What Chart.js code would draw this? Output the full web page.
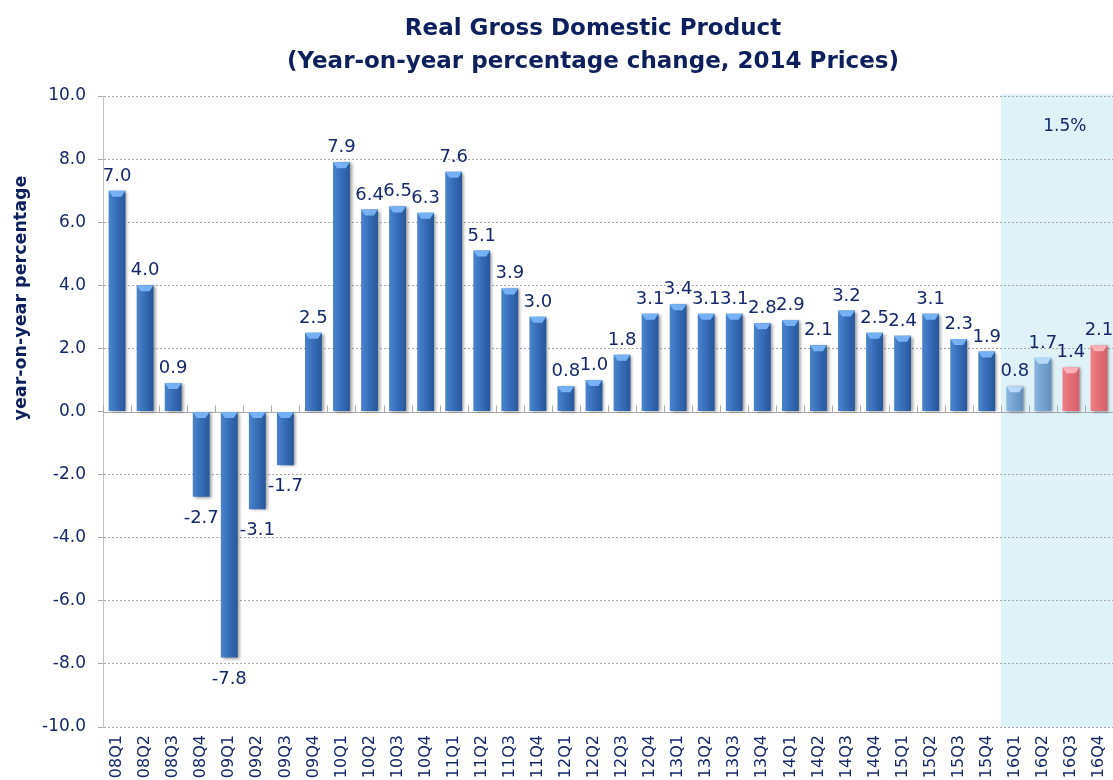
<!DOCTYPE html>
<html><head><meta charset="utf-8">
<script src="https://cdn.jsdelivr.net/npm/chart.js@4.4.0/dist/chart.umd.min.js"></script>
<style>html,body{margin:0;padding:0;background:#fff;}canvas{display:block;}</style>
</head><body>
<canvas id="c" width="1113" height="780"></canvas>
<script>
const categories = ["08Q1","08Q2","08Q3","08Q4","09Q1","09Q2","09Q3","09Q4",
  "10Q1","10Q2","10Q3","10Q4","11Q1","11Q2","11Q3","11Q4",
  "12Q1","12Q2","12Q3","12Q4","13Q1","13Q2","13Q3","13Q4",
  "14Q1","14Q2","14Q3","14Q4","15Q1","15Q2","15Q3","15Q4",
  "16Q1","16Q2","16Q3","16Q4"];
const gdpGrowth = [7.0,4.0,0.9,-2.7,-7.8,-3.1,-1.7,2.5,
  7.9,6.4,6.5,6.3,7.6,5.1,3.9,3.0,
  0.8,1.0,1.8,3.1,3.4,3.1,3.1,2.8,
  2.9,2.1,3.2,2.5,2.4,3.1,2.3,1.9,
  0.8,1.7,1.4,2.1];
const barGroup = ["a","a","a","a","a","a","a","a","a","a","a","a","a","a","a","a",
  "a","a","a","a","a","a","a","a","a","a","a","a","a","a","a","a",
  "b","b","c","c"];
const yMin = -10, yMax = 10, yStep = 2;
const titleLines = ["Real Gross Domestic Product","(Year-on-year percentage change, 2014 Prices)"];
const yAxisTitle = "year-on-year percentage";
const shadedFrom = "16Q1";
const shadedNote = "1.5%";

const NAVY = "#14286a";
const palette = {
  a: ["#4b84ce", "#3a71bb", "#28579a", "rgba(120,180,245,0.95)"],
  b: ["#8ab7e0", "#76a5d2", "#6290c0", "rgba(185,220,250,0.95)"],
  c: ["#ee8088", "#e6717a", "#d65f69", "rgba(255,185,190,0.9)"]
};

function barColor(ctx) {
  const chart = ctx.chart;
  const g = palette[barGroup[ctx.dataIndex]] || palette.a;
  const xs = chart.scales && chart.scales.x;
  if (!xs || !chart.chartArea || ctx.dataIndex === undefined) return g[1];
  const cx = xs.getPixelForValue(ctx.dataIndex);
  const step = xs.getPixelForValue(1) - xs.getPixelForValue(0);
  const w = step * 0.3;
  const grad = chart.ctx.createLinearGradient(cx - w, 0, cx + w, 0);
  grad.addColorStop(0, g[0]);
  grad.addColorStop(0.4, g[1]);
  grad.addColorStop(1, g[2]);
  return grad;
}

const decor = {
  id: "decor",
  beforeDraw(chart) {
    const c = chart.ctx, a = chart.chartArea, xs = chart.scales.x;
    c.save();
    c.fillStyle = "#fff";
    c.fillRect(0, 0, chart.width, chart.height);
    const i0 = categories.indexOf(shadedFrom);
    const step = xs.getPixelForValue(1) - xs.getPixelForValue(0);
    const sx = xs.getPixelForValue(i0) - step / 2;
    c.fillStyle = "#dff2f8";
    c.fillRect(sx, a.top - 2, a.right - sx, a.bottom - a.top + 2);
    c.fillStyle = "#0e1f5e";
    c.font = "bold 23px 'DejaVu Sans'";
    c.textAlign = "center";
    c.textBaseline = "alphabetic";
    c.fillText(titleLines[0], 593, 35);
    c.fillText(titleLines[1], 593, 68);
    c.translate(21, 298);
    c.rotate(-Math.PI / 2);
    c.font = "bold 17.5px 'DejaVu Sans'";
    c.textBaseline = "middle";
    c.fillText(yAxisTitle, 0, 0);
    c.restore();
  },
  beforeDatasetsDraw(chart) {
    const c = chart.ctx, a = chart.chartArea, xs = chart.scales.x, ys = chart.scales.y;
    const y0 = Math.round(ys.getPixelForValue(0)) + 0.5;
    c.save();
    c.strokeStyle = "#a9a9a9";
    c.lineWidth = 1;
    c.beginPath();
    c.moveTo(a.left, y0); c.lineTo(a.right, y0);
    const step = xs.getPixelForValue(1) - xs.getPixelForValue(0);
    for (let i = 0; i <= categories.length; i++) {
      const x = Math.round(xs.getPixelForValue(0) - step / 2 + i * step) + 0.5;
      c.moveTo(x, y0); c.lineTo(x, y0 - 7);
    }
    c.stroke();
    c.restore();
    c.save();
    c.shadowColor = "rgba(0,0,0,0.4)";
    c.shadowBlur = 3;
    c.shadowOffsetX = 2;
    c.shadowOffsetY = 1;
  },
  afterDatasetsDraw(chart) {
    const c = chart.ctx, a = chart.chartArea;
    c.restore();
    const meta = chart.getDatasetMeta(0);
    c.save();
    meta.data.forEach((el, i) => {
      const v = gdpGrowth[i];
      const g = palette[barGroup[i]] || palette.a;
      const w = el.width;
      const left = el.x - w / 2;
      const capY = v >= 0 ? el.y : el.base;
      const h = 6;
      c.fillStyle = g[3];
      c.beginPath();
      c.moveTo(left, capY);
      c.lineTo(left + w, capY);
      c.lineTo(left + w - 4, capY + h);
      c.lineTo(left + 4, capY + h);
      c.closePath();
      c.fill();
    });
    c.fillStyle = NAVY;
    c.font = "18px 'DejaVu Sans'";
    c.textAlign = "center";
    c.textBaseline = "alphabetic";
    meta.data.forEach((el, i) => {
      const v = gdpGrowth[i];
      const y = v >= 0 ? el.y - 10 : el.y + 26;
      c.fillText(v.toFixed(1), el.x, y);
    });
    const xs = chart.scales.x;
    const i0 = categories.indexOf(shadedFrom);
    const step = xs.getPixelForValue(1) - xs.getPixelForValue(0);
    const sx = xs.getPixelForValue(i0) - step / 2;
    c.font = "17px 'DejaVu Sans'";
    c.textBaseline = "middle";
    c.fillText(shadedNote, (sx + a.right) / 2 + 8, 127);
    c.restore();
  }
};

new Chart(document.getElementById("c"), {
  type: "bar",
  data: {
    labels: categories,
    datasets: [{
      data: gdpGrowth,
      backgroundColor: barColor,
      borderWidth: 0,
      categoryPercentage: 1.0,
      barPercentage: 0.6
    }]
  },
  plugins: [decor],
  options: {
    responsive: false,
    devicePixelRatio: 1,
    animation: false,
    layout: { padding: { top: 96, right: 0, bottom: 0, left: 0 } },
    plugins: { legend: { display: false }, tooltip: { enabled: false }, title: { display: false } },
    scales: {
      x: {
        grid: { display: false },
        border: { display: false },
        ticks: {
          autoSkip: false, minRotation: 90, maxRotation: 90, padding: 0,
          color: NAVY, font: { family: "'DejaVu Sans'", size: 16 }
        },
        afterFit(s) { s.height = 53; s.paddingLeft = 0; s.paddingRight = 0; }
      },
      y: {
        min: yMin, max: yMax,
        ticks: {
          stepSize: yStep, padding: 12, color: NAVY,
          font: { family: "'DejaVu Sans'", size: 17 },
          callback: v => Number(v).toFixed(1)
        },
        grid: {
          color: ctx => (ctx.tick && ctx.tick.value === 0) ? "rgba(0,0,0,0)" : "#a8a8a8",
          tickColor: "#a8a8a8",
          tickLength: 5,
          lineWidth: 1,
          borderDash: [2, 2]
        },
        border: { display: true, color: "#c0c0c0", width: 1, dash: [2, 2] },
        afterFit(s) { s.width = 103; s.paddingTop = 0; s.paddingBottom = 0; }
      }
    }
  }
});
</script>
</body></html>
